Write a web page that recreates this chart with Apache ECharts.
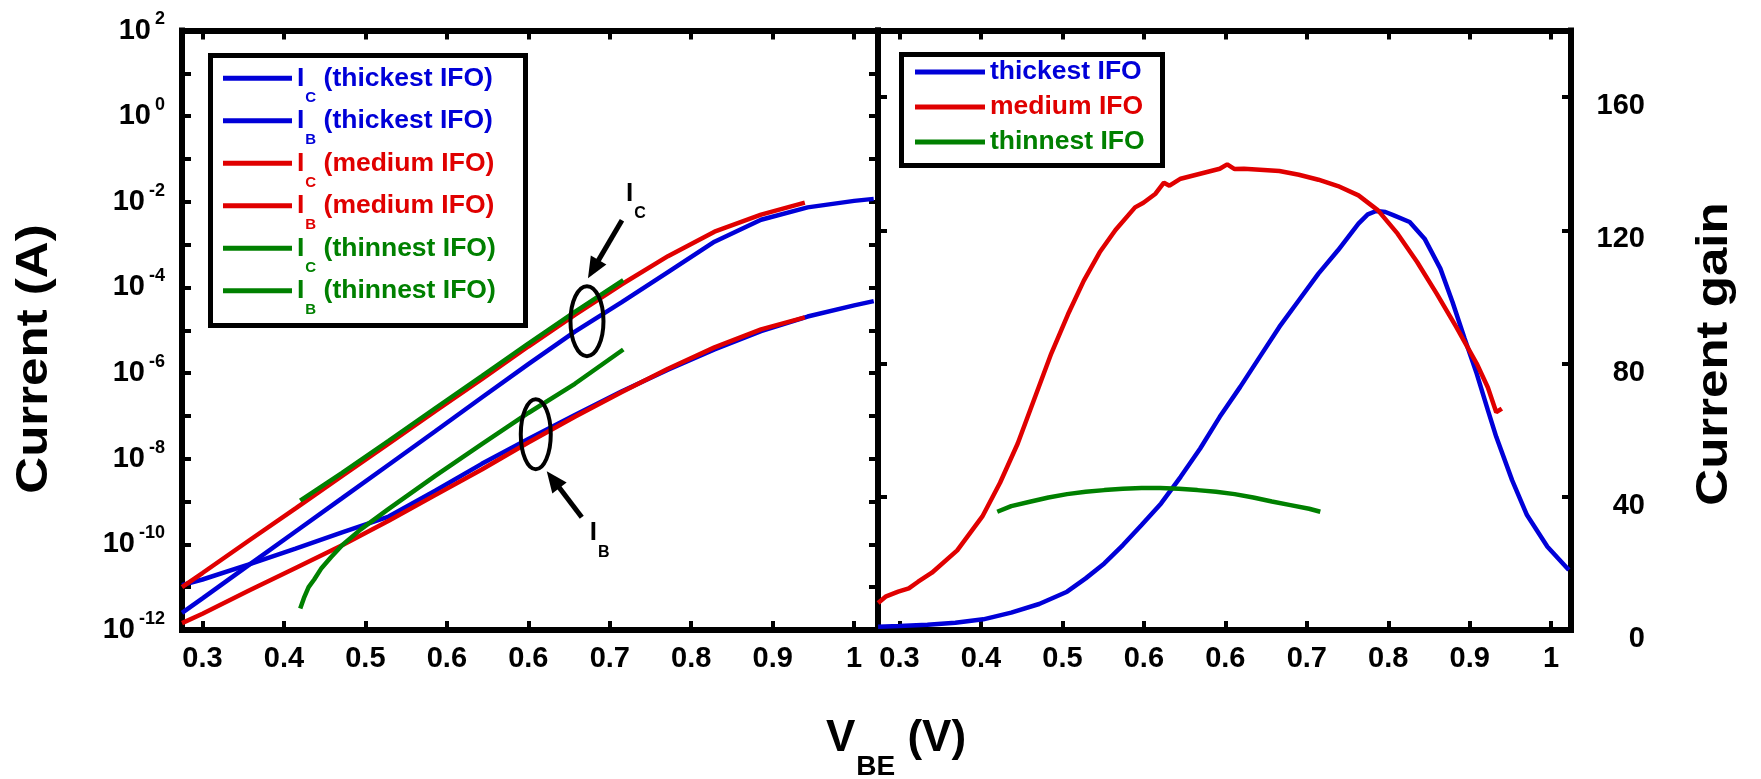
<!DOCTYPE html>
<html><head><meta charset="utf-8">
<script src="https://cdn.jsdelivr.net/npm/echarts@6/dist/echarts.min.js"></script>
<style>html,body{margin:0;padding:0;background:#fff}#c{width:1761px;height:779px}</style>
</head><body><div id="c"></div>
<script>
const FONT = '"Liberation Sans", Arial, Helvetica, sans-serif';
const C = { thick: '#0000d8', med: '#e00000', thin: '#008000' };

// ---- ticks / labels ----
const xTickValues = [0.3, 0.3875, 0.475, 0.5625, 0.65, 0.7375, 0.825, 0.9125, 1.0];
const xTickLabels = ['0.3', '0.4', '0.5', '0.6', '0.6', '0.7', '0.8', '0.9', '1'];
const yLogTicks = [1e-12, 1e-11, 1e-10, 1e-9, 1e-8, 1e-7, 1e-6, 1e-5, 1e-4, 1e-3, 1e-2, 1e-1, 1e0, 1e1, 1e2];
const yLogLabels = [1e-12, 1e-10, 1e-8, 1e-6, 1e-4, 1e-2, 1e0, 1e2];
const gainTicks = [0, 40, 80, 120, 160];

// ---- left panel: currents (A) vs V_BE (V) ----
const vIcThick = [0.278, 0.30, 0.35, 0.40, 0.45, 0.50, 0.55, 0.60, 0.65, 0.70, 0.75, 0.80, 0.85, 0.90, 0.95, 1.00, 1.021];
const icThick  = [2.51e-12, 5.50e-12, 3.31e-11, 2.00e-10, 1.20e-9, 7.24e-9, 4.37e-8, 2.69e-7, 1.62e-6, 9.33e-6, 4.47e-5, 2.29e-4, 1.17e-3, 3.80e-3, 7.41e-3, 1.05e-2, 1.17e-2];
const vIbThick = [0.278, 0.30, 0.35, 0.40, 0.45, 0.50, 0.55, 0.60, 0.65, 0.70, 0.75, 0.80, 0.85, 0.90, 0.95, 1.00, 1.021];
const ibThick  = [1.12e-11, 1.51e-11, 3.39e-11, 7.94e-11, 1.91e-10, 4.47e-10, 1.78e-9, 7.59e-9, 2.88e-8, 1.05e-7, 3.72e-7, 1.20e-6, 3.55e-6, 9.55e-6, 2.09e-5, 3.80e-5, 4.79e-5];
const vIcMed = [0.278, 0.30, 0.35, 0.40, 0.45, 0.50, 0.55, 0.60, 0.65, 0.70, 0.75, 0.80, 0.85, 0.90, 0.947];
const icMed  = [1.00e-11, 2.14e-11, 1.23e-10, 6.92e-10, 3.98e-9, 2.24e-8, 1.29e-7, 7.24e-7, 4.17e-6, 2.29e-5, 1.17e-4, 5.37e-4, 2.00e-3, 5.01e-3, 9.55e-3];
const vIbMed = [0.278, 0.30, 0.35, 0.40, 0.45, 0.50, 0.55, 0.60, 0.65, 0.70, 0.75, 0.80, 0.85, 0.90, 0.947];
const ibMed  = [1.45e-12, 2.40e-12, 8.32e-12, 2.82e-11, 9.55e-11, 3.55e-10, 1.41e-9, 5.62e-9, 2.40e-8, 9.55e-8, 3.55e-7, 1.26e-6, 3.98e-6, 1.05e-5, 2.00e-5];
const vIcThin = [0.405, 0.45, 0.50, 0.55, 0.60, 0.65, 0.70, 0.752];
const icThin  = [1.05e-9, 4.68e-9, 2.63e-8, 1.51e-7, 8.51e-7, 4.90e-6, 2.69e-5, 1.48e-4];
const vIbThin = [0.405, 0.409, 0.414, 0.42, 0.428, 0.438, 0.45, 0.47, 0.50, 0.55, 0.60, 0.65, 0.70, 0.752];
const ibThin  = [3.16e-12, 5.62e-12, 1.00e-11, 1.51e-11, 2.82e-11, 5.01e-11, 9.55e-11, 2.24e-10, 6.76e-10, 3.98e-9, 2.19e-8, 1.17e-7, 5.62e-7, 3.55e-6];

// ---- right panel: current gain vs V_BE (V) ----
const vGainThick = [0.277, 0.30, 0.33, 0.36, 0.39, 0.42, 0.45, 0.48, 0.50, 0.52, 0.54, 0.56, 0.581, 0.602, 0.623, 0.644, 0.666, 0.687, 0.708, 0.729, 0.75, 0.771, 0.793, 0.803, 0.812, 0.822, 0.831, 0.848, 0.864, 0.881, 0.894, 0.907, 0.92, 0.932, 0.941, 0.958, 0.974, 0.996, 1.019];
const gainThick  = [1.0, 1.2, 1.6, 2.2, 3.2, 5.2, 7.8, 11.5, 15.5, 20, 25.5, 31.5, 38, 46, 54.5, 64, 73, 82, 91, 99, 107, 114, 122, 124.8, 125.8, 125.5, 124.5, 122.5, 117.5, 108.5, 98.5, 87.5, 77, 66, 58, 45, 34.5, 25, 18];
const vGainMed = [0.277, 0.285, 0.2986, 0.31, 0.32, 0.3348, 0.362, 0.389, 0.408, 0.427, 0.445, 0.463, 0.481, 0.498, 0.515, 0.532, 0.553, 0.562, 0.575, 0.584, 0.59, 0.602, 0.623, 0.644, 0.652, 0.66, 0.67, 0.687, 0.708, 0.729, 0.75, 0.771, 0.793, 0.814, 0.835, 0.856, 0.877, 0.898, 0.92, 0.932, 0.941, 0.947];
const gainMed  = [8.1, 10, 11.5, 12.5, 14.5, 17.2, 23.9, 34.1, 44.2, 56, 69.5, 83, 94.8, 104.9, 113.4, 120.1, 126.9, 128.3, 131, 134.3, 133.4, 135.5, 137, 138.5, 139.8, 138.4, 138.5, 138.2, 137.8, 136.7, 135.2, 133.3, 130.5, 126, 119, 110.5, 101, 91, 80, 72.8, 65.4, 66.5];
const vGainThin = [0.405, 0.42, 0.44, 0.46, 0.48, 0.50, 0.52, 0.54, 0.56, 0.58, 0.60, 0.62, 0.64, 0.66, 0.68, 0.70, 0.72, 0.74, 0.752];
const gainThin  = [35.5, 37.2, 38.5, 39.8, 40.8, 41.5, 42, 42.4, 42.6, 42.6, 42.4, 42.0, 41.5, 40.8, 39.8, 38.6, 37.5, 36.4, 35.5];

// annotation anchors (data coordinates of the ellipse centres, left panel)
const annotIC = { v: 0.713, i: 1.63e-5 };
const annotIB = { v: 0.658, i: 3.73e-8 };

const pairs = (xs, ys) => xs.map((x, k) => [x, ys[k]]);
const xFmt = (val) => { const k = xTickValues.findIndex(t => Math.abs(t - val) < 1e-6); return k >= 0 ? xTickLabels[k] : ''; };

const chart = echarts.init(document.getElementById('c'), null, { renderer: 'canvas' });

const axisLine = { show: true, onZero: false, lineStyle: { color: '#000', width: 6, cap: 'square' } };
const tick = (vals) => { const t = { show: true, inside: true, length: 9, lineStyle: { color: '#000', width: 4 } }; if (vals) t.customValues = vals; return t; };
const lblBase = { fontFamily: FONT, fontWeight: 'bold', fontSize: 29, color: '#000' };

function xAx(grid, pos, min, max, showLabel) {
  return {
    type: 'value', gridIndex: grid, position: pos, min: min, max: max,
    axisLine: axisLine, axisTick: tick(xTickValues), splitLine: { show: false },
    axisLabel: showLabel ? Object.assign({ show: true, customValues: xTickValues, formatter: xFmt, margin: 14 }, lblBase) : { show: false }
  };
}

function legendRich() {
  const r = {};
  [['B', C.thick], ['R', C.med], ['G', C.thin]].forEach(([k, col]) => {
    r['m' + k] = { color: col, fontSize: 26.5, fontWeight: 'bold', fontFamily: FONT, verticalAlign: 'middle', lineHeight: 30 };
    r['s' + k] = { color: col, fontSize: 15, fontWeight: 'bold', fontFamily: FONT, verticalAlign: 'middle', lineHeight: 15, padding: [38.6, 0, 0, 1] };
  });
  return r;
}
const colorKey = (name) => name.indexOf('thickest') >= 0 ? 'B' : (name.indexOf('medium') >= 0 ? 'R' : 'G');

const leftNames = ['I_C (thickest IFO)', 'I_B (thickest IFO)', 'I_C (medium IFO)', 'I_B (medium IFO)', 'I_C (thinnest IFO)', 'I_B (thinnest IFO)'];
const leftColors = [C.thick, C.thick, C.med, C.med, C.thin, C.thin];
const rightNames = ['thickest IFO', 'medium IFO', 'thinnest IFO'];
const rightColors = [C.thick, C.med, C.thin];

function lineSeries(name, xi, yi, data, color) {
  return { name: name, type: 'line', xAxisIndex: xi, yAxisIndex: yi, data: data, symbol: 'none', showSymbol: false,
    color: color, lineStyle: { width: 4.5, color: color }, itemStyle: { color: color }, silent: true, animation: false, clip: true, z: 2 };
}

const option = {
  animation: false,
  backgroundColor: '#fff',
  grid: [
    { left: 182, top: 30.5, width: 696, height: 599.5, containLabel: false, outerBoundsMode: 'none' },
    { left: 878, top: 30.5, width: 693, height: 599.5, containLabel: false, outerBoundsMode: 'none' }
  ],
  xAxis: [
    xAx(0, 'bottom', 0.278, 1.0256, true),
    xAx(0, 'top', 0.278, 1.0256, false),
    xAx(1, 'bottom', 0.2769, 1.0213, true),
    xAx(1, 'top', 0.2769, 1.0213, false)
  ],
  yAxis: [
    { type: 'log', logBase: 10, gridIndex: 0, position: 'left', min: 1e-12, max: 1e2,
      axisLine: axisLine, axisTick: tick(yLogTicks), splitLine: { show: false }, minorTick: { show: false },
      axisLabel: { show: true, customValues: yLogLabels, margin: 17,
        formatter: (v) => '{b|10}{s|' + Math.round(Math.log10(v)) + '}',
        rich: {
          b: { fontFamily: FONT, fontWeight: 'bold', fontSize: 29, color: '#000', verticalAlign: 'middle' },
          s: { fontFamily: FONT, fontWeight: 'bold', fontSize: 18, color: '#000', verticalAlign: 'middle', lineHeight: 18, padding: [0, 0, 22, 4] }
        } } },
    { type: 'log', logBase: 10, gridIndex: 0, position: 'right', min: 1e-12, max: 1e2,
      axisLine: axisLine, axisTick: tick(yLogTicks), splitLine: { show: false }, minorTick: { show: false }, axisLabel: { show: false } },
    { type: 'value', gridIndex: 1, position: 'right', min: 0, max: 180, interval: 40,
      axisLine: axisLine, axisTick: tick(gainTicks), splitLine: { show: false },
      axisLabel: { show: true, customValues: gainTicks, align: 'right', margin: 74,
        formatter: (v) => '{a|' + v + '}',
        rich: { a: { fontFamily: FONT, fontWeight: 'bold', fontSize: 29, color: '#000', verticalAlign: 'middle', lineHeight: 29, padding: [18, 0, 0, 0] } } } },
    { type: 'value', gridIndex: 1, position: 'left', min: 0, max: 180, interval: 40,
      axisLine: axisLine, axisTick: tick(gainTicks), splitLine: { show: false }, axisLabel: { show: false } }
  ],
  legend: [
    { data: leftNames.map((n, k) => ({ name: n, textStyle: { color: leftColors[k] } })),
      orient: 'vertical', left: 223, top: 51.5, itemGap: -11.1, itemWidth: 69, itemHeight: 5, icon: 'rect',
      selectedMode: false, padding: 0, itemStyle: { borderWidth: 0 },
      formatter: (name) => { const m = name.match(/^I_(\w) (.*)$/); const k = colorKey(name); return '{m' + k + '|I}{s' + k + '|' + m[1] + '}{m' + k + '| ' + m[2] + '}'; },
      textStyle: { fontFamily: FONT, fontWeight: 'bold', fontSize: 26.5, rich: legendRich() } },
    { data: rightNames.map((n, k) => ({ name: n, textStyle: { color: rightColors[k] } })),
      orient: 'vertical', left: 915, top: 57, itemGap: 5, itemWidth: 70, itemHeight: 5, icon: 'rect',
      selectedMode: false, padding: 0, itemStyle: { borderWidth: 0 },
      textStyle: { fontFamily: FONT, fontWeight: 'bold', fontSize: 26.5, lineHeight: 30 } }
  ],
  series: [
    lineSeries(leftNames[0], 0, 0, pairs(vIcThick, icThick), C.thick),
    lineSeries(leftNames[1], 0, 0, pairs(vIbThick, ibThick), C.thick),
    lineSeries(leftNames[2], 0, 0, pairs(vIcMed, icMed), C.med),
    lineSeries(leftNames[3], 0, 0, pairs(vIbMed, ibMed), C.med),
    lineSeries(leftNames[4], 0, 0, pairs(vIcThin, icThin), C.thin),
    lineSeries(leftNames[5], 0, 0, pairs(vIbThin, ibThin), C.thin),
    lineSeries(rightNames[0], 2, 2, pairs(vGainThick, gainThick), C.thick),
    lineSeries(rightNames[1], 2, 2, pairs(vGainMed, gainMed), C.med),
    lineSeries(rightNames[2], 2, 2, pairs(vGainThin, gainThin), C.thin)
  ]
};
chart.setOption(option);

// ---- annotations & decorations ----
function arrow(tail, tip, list) {
  const dx = tip[0] - tail[0], dy = tip[1] - tail[1];
  const L = Math.hypot(dx, dy), ux = dx / L, uy = dy / L, nx = -uy, ny = ux;
  const hl = 21, hw = 9;
  list.push({ type: 'line', z: 10, shape: { x1: tail[0], y1: tail[1], x2: tip[0] - ux * (hl - 3), y2: tip[1] - uy * (hl - 3) }, style: { stroke: '#000', lineWidth: 5 } });
  list.push({ type: 'polygon', z: 10, shape: { points: [[tip[0], tip[1]], [tip[0] - ux * hl + nx * hw, tip[1] - uy * hl + ny * hw], [tip[0] - ux * hl - nx * hw, tip[1] - uy * hl - ny * hw]] }, style: { fill: '#000' } });
}
function subText(x, y, main, sub, mainSize, subSize, drop) {
  return { type: 'text', z: 10, style: { x: x, y: y, text: '{m|' + main + '}{s|' + sub + '}', align: 'left', verticalAlign: 'middle',
    rich: {
      m: { fill: '#000', fontSize: mainSize, fontWeight: 'bold', fontFamily: FONT, verticalAlign: 'middle', lineHeight: mainSize + 4 },
      s: { fill: '#000', fontSize: subSize, fontWeight: 'bold', fontFamily: FONT, verticalAlign: 'middle', lineHeight: subSize, padding: [drop * 2, 0, 0, 1] }
    } } };
}
const g = [];
const pIC = chart.convertToPixel({ xAxisIndex: 0, yAxisIndex: 0 }, [annotIC.v, annotIC.i]);
const pIB = chart.convertToPixel({ xAxisIndex: 0, yAxisIndex: 0 }, [annotIB.v, annotIB.i]);
g.push({ type: 'ellipse', z: 10, shape: { cx: pIC[0], cy: pIC[1], rx: 16.5, ry: 35 }, style: { fill: null, stroke: '#000', lineWidth: 4 } });
g.push({ type: 'ellipse', z: 10, shape: { cx: pIB[0], cy: pIB[1], rx: 15, ry: 35 }, style: { fill: null, stroke: '#000', lineWidth: 4 } });
arrow([pIC[0] + 35, pIC[1] - 101], [pIC[0] + 1, pIC[1] - 43], g);
arrow([pIB[0] + 46, pIB[1] + 83], [pIB[0] + 11, pIB[1] + 37], g);
g.push(subText(pIC[0] + 39, pIC[1] - 127, 'I', 'C', 26, 16, 19));
g.push(subText(pIB[0] + 54, pIB[1] + 98.5, 'I', 'B', 26, 16, 19.5));
// legend frames
g.push({ type: 'rect', z: 3, shape: { x: 210.5, y: 55.5, width: 315, height: 270 }, style: { fill: '#fff', stroke: '#000', lineWidth: 5 } });
g.push({ type: 'rect', z: 3, shape: { x: 901.5, y: 54.5, width: 261, height: 111 }, style: { fill: '#fff', stroke: '#000', lineWidth: 5 } });
// axis titles
const titleStyle = (t) => ({ text: t, align: 'center', verticalAlign: 'middle', fill: '#000', fontSize: 44, fontWeight: 'bold', fontFamily: FONT });
g.push({ type: 'text', z: 10, x: 35, y: 359, rotation: Math.PI / 2, scaleX: 1.16, style: titleStyle('Current (A)') });
g.push({ type: 'text', z: 10, x: 1715, y: 354, rotation: Math.PI / 2, scaleX: 1.16, style: titleStyle('Current gain') });
g.push({ type: 'text', z: 10, style: { x: 896, y: 739, text: '{v|V}{s|BE}{v| (V)}', align: 'center', verticalAlign: 'middle',
  rich: {
    v: { fill: '#000', fontSize: 44, fontWeight: 'bold', fontFamily: FONT, verticalAlign: 'middle', lineHeight: 48 },
    s: { fill: '#000', fontSize: 28, fontWeight: 'bold', fontFamily: FONT, verticalAlign: 'middle', lineHeight: 28, padding: [56, 0, 0, 1] }
  } } });
chart.setOption({ graphic: { elements: g } });
</script>
</body></html>
